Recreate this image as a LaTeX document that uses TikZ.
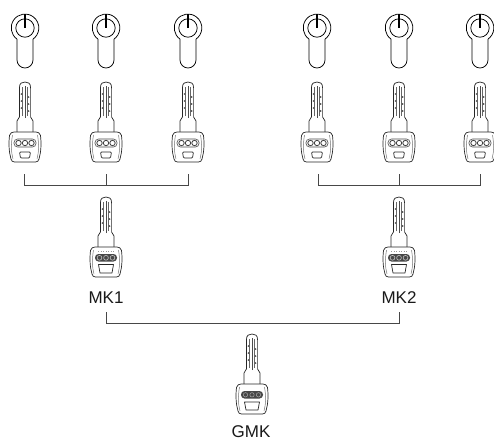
\documentclass[tikz,border=0pt]{standalone}
\usepackage{fontspec}
\setmainfont{Liberation Sans}
\tikzset{
  lockline/.style={draw=black,line width=0.75pt},
  keyline/.style={draw=black!85,line width=0.7pt,line join=round},
  busline/.style={draw=black!72,line width=0.9pt},
  keylabel/.style={inner sep=0pt,font=\fontsize{17}{20}\selectfont,text=black!90},
  lockpic/.pic={
    \draw[lockline] (-8,11.1) arc[start angle=125.5,end angle=414.5,radius=13.8];
    \draw[lockline] (-8,11.1) -- (-8,32) arc[start angle=180,end angle=0,radius=8] -- (8,11.1);
    \draw[lockline] (0,0) circle[radius=9.2];
    \draw[draw=black,line width=1.4pt] (0,-14) -- (0,0);
  },
  blade/.pic={
    \draw[keyline,fill=white] (-8,52) -- (-8,39) -- (-5.6,35) -- (-5.6,6) .. controls (-5.6,1) and (-3,0) .. (0,0) .. controls (3,0) and (5.6,1) .. (5.6,6) -- (5.6,35) -- (8,39) -- (8,52);
    \draw[draw=black!60,line width=0.5pt] (-2.4,34) -- (-2.4,5) (2.4,34) -- (2.4,5);
    \draw[draw=black!70,line width=1pt] (0,36) -- (0,4);
    \foreach \yy in {12,19,26}{
      \fill[black!70] (-3.6,\yy) circle[radius=0.9];
      \fill[black!70] (3.6,\yy+3) circle[radius=0.9];
    }
  },
  headshape/.pic={
    \draw[keyline,fill=white] (-11,50) -- (11,50) .. controls (13.5,50) and (14.5,51) .. (15.5,53.5) .. controls (16.5,62) and (16,70) .. (14,77) .. controls (13.5,79) and (12.5,80) .. (10.5,80) -- (-10.5,80) .. controls (-12.5,80) and (-13.5,79) .. (-14,77) .. controls (-16,70) and (-16.5,62) .. (-15.5,53.5) .. controls (-14.5,51) and (-13.5,50) .. (-11,50) -- cycle;
    \draw[draw=black!55,line width=0.5pt] (-12.5,53) .. controls (-14,62) and (-14,70) .. (-12,77) (12.5,53) .. controls (14,62) and (14,70) .. (12,77);
  },
  userkey/.pic={
    \pic {blade};
    \pic {headshape};
    \draw[draw=black!70,line width=0.6pt,rounded corners=3.5pt] (-11,57) rectangle (11,65);
    \foreach \xx in {-6.5,0,6.5}{
      \draw[draw=black!75,line width=0.8pt] (\xx,61) circle[radius=2.7];
    }
    \draw[keyline,rounded corners=1pt] (-5.5,70) -- (5.5,70) -- (4.5,76) -- (-4.5,76) -- cycle;
  },
  masterkey/.pic={
    \pic {blade};
    \pic {headshape};
    \draw[draw=black!40,line width=0.5pt,dotted] (-8,54) -- (8,54);
    \fill[black!72,rounded corners=3.5pt] (-11,57) rectangle (11,64.5);
    \foreach \xx in {-6.5,0,6.5}{
      \draw[draw=black!25,line width=0.6pt] (\xx,60.8) circle[radius=2.4];
    }
    \draw[keyline] (-7.5,67.5) -- (7.5,67.5) -- (6,76) -- (-6,76) -- cycle;
  },
  grandkey/.pic={
    \pic {blade};
    \pic {headshape};
    \fill[black!72,rounded corners=3.5pt] (-11,57) rectangle (11,64.5);
    \foreach \xx in {-6.5,0,6.5}{
      \draw[draw=black!35,line width=0.5pt] (\xx,60.8) circle[radius=2.2];
    }
    \draw[keyline] (-7.5,68) -- (7.5,68) -- (6,76) -- (-6,76) -- cycle;
  },
}
\begin{document}
\begin{tikzpicture}[x=1pt,y=-1pt]
\useasboundingbox (0,0) rectangle (494,439);
\foreach \cx in {25,106,188,317,399,480}{
  \pic at (\cx,28) {lockpic};
  \pic at (\cx,82) {userkey};
}
\pic at (106,197) {masterkey};
\pic at (399,197) {masterkey};
\pic at (252,334) {grandkey};
\coordinate (ua) at (24,174);
\coordinate (ub) at (106,174);
\coordinate (uc) at (188,174);
\coordinate (ud) at (318,174);
\coordinate (ue) at (399,174);
\coordinate (uf) at (480,174);
\node[keylabel,anchor=base] (mka) at (106,303) {MK1};
\node[keylabel,anchor=base] (mkb) at (399,303) {MK2};
\node[keylabel,anchor=base] (gmk) at (251,437.5) {GMK};
\coordinate (ma) at (106,312);
\coordinate (mb) at (399,312);
\draw[busline] (ua) -- ++(0,11) -| (uc);
\draw[busline] (ub) -- ++(0,11);
\draw[busline] (ud) -- ++(0,11) -| (uf);
\draw[busline] (ue) -- ++(0,11);
\draw[busline] (ma) -- ++(0,11) -| (mb);
\end{tikzpicture}
\end{document}
